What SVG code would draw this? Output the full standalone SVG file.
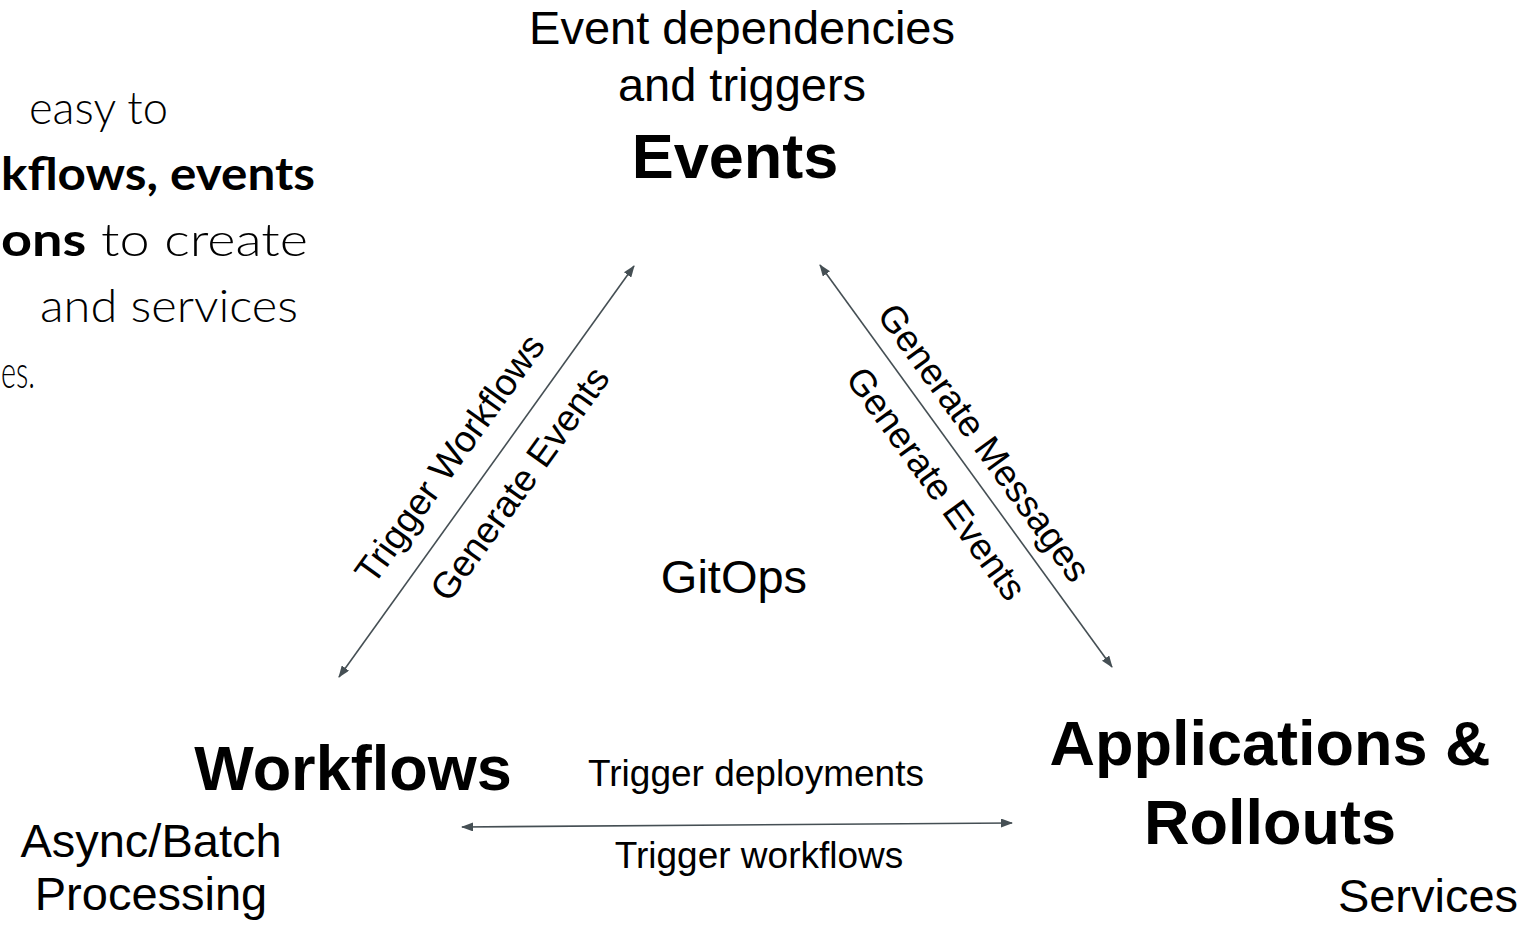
<svg xmlns="http://www.w3.org/2000/svg" width="1524" height="926" viewBox="0 0 1524 926">
  <style>
    .t { font-family: "Liberation Sans", Arial, sans-serif; fill: #000; }
    .reg { font-size: 47px; }
    .big { font-size: 63px; font-weight: bold; }
    .lab { font-size: 37px; }
    .intro { font-family: Lato, "Open Sans", sans-serif; font-size: 46px; font-weight: 300; fill: #000; }
    .b { font-weight: bold; }
    .conn { stroke: #454f54; stroke-width: 1.6; fill: none; marker-start: url(#ah); marker-end: url(#ah); }
  </style>
  <defs>
    <marker id="ah" viewBox="0 0 12 9" refX="11" refY="4.5" markerWidth="12" markerHeight="9" markerUnits="userSpaceOnUse" orient="auto-start-reverse">
      <path d="M0,0 L12,4.5 L0,9 Z" fill="#454f54"/>
    </marker>
  </defs>
  <rect width="1524" height="926" fill="#ffffff"/>

  <g id="intro-text">
    <text class="intro" x="29" y="124" textLength="139" lengthAdjust="spacingAndGlyphs">easy to</text>
    <text class="intro b" x="1" y="190" textLength="314" lengthAdjust="spacingAndGlyphs">kflows, events</text>
    <text class="intro" x="1" y="256" textLength="307" lengthAdjust="spacingAndGlyphs"><tspan class="b">ons</tspan> to create</text>
    <text class="intro" x="40" y="322" textLength="258" lengthAdjust="spacingAndGlyphs">and services</text>
    <text class="intro" x="1" y="388" textLength="34" lengthAdjust="spacingAndGlyphs">es.</text>
  </g>

  <g id="connectors">
    <line class="conn" x1="339" y1="677" x2="634" y2="266"/>
    <line class="conn" x1="820" y1="265" x2="1112" y2="667"/>
    <line class="conn" x1="462" y1="827" x2="1012" y2="823"/>
    <text class="t lab" text-anchor="middle" transform="translate(460,466) rotate(-54.3)">Trigger Workflows</text>
    <text class="t lab" text-anchor="middle" transform="translate(530,491) rotate(-54.3)">Generate Events</text>
    <text class="t lab" text-anchor="middle" transform="translate(974,450) rotate(54)">Generate Messages</text>
    <text class="t lab" text-anchor="middle" transform="translate(926,491) rotate(54)">Generate Events</text>
    <text class="t lab" text-anchor="middle" x="756" y="786">Trigger deployments</text>
    <text class="t lab" text-anchor="middle" x="759" y="868">Trigger workflows</text>
  </g>

  <g id="node-events">
    <text class="t reg" text-anchor="middle" x="742" y="44">Event dependencies</text>
    <text class="t reg" text-anchor="middle" x="742" y="101">and triggers</text>
    <text class="t big" text-anchor="middle" x="735" y="178">Events</text>
  </g>

  <g id="node-workflows">
    <text class="t big" text-anchor="middle" x="353" y="790">Workflows</text>
    <text class="t reg" text-anchor="middle" x="151" y="857">Async/Batch</text>
    <text class="t reg" text-anchor="middle" x="151" y="910">Processing</text>
  </g>

  <g id="node-applications">
    <text class="t big" text-anchor="middle" x="1270" y="765">Applications &amp;</text>
    <text class="t big" text-anchor="middle" x="1270" y="844">Rollouts</text>
    <text class="t reg" text-anchor="middle" x="1428" y="912">Services</text>
  </g>

  <g id="node-gitops">
    <text class="t reg" text-anchor="middle" x="734" y="593">GitOps</text>
  </g>
</svg>
